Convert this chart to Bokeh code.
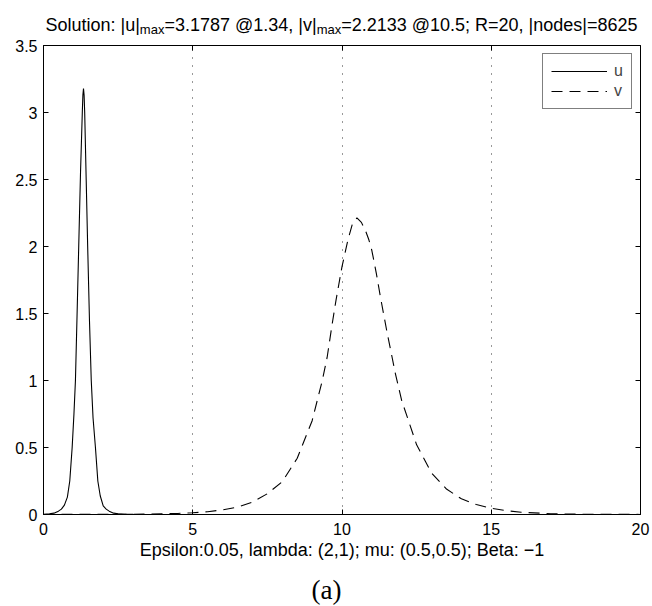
from bokeh.plotting import figure
from bokeh.layouts import column
from bokeh.models import LinearAxis, FixedTicker, Legend, LegendItem, ColumnDataSource
from bokeh.core.properties import value
from bokeh.embed import file_html
from bokeh.resources import INLINE

# ---------------- data ----------------
u_x = [0.0, 0.2, 0.35, 0.5, 0.6, 0.7, 0.8, 0.88, 0.96, 1.02, 1.07, 1.12, 1.18, 1.24, 1.30, 1.32,
       1.34, 1.36, 1.38, 1.43, 1.48, 1.54, 1.60, 1.66, 1.74, 1.82, 1.90, 2.0, 2.1, 2.2, 2.35, 2.5,
       2.7, 3.0, 4.0, 6.0, 10.0, 20.0]
u_y = [0.002, 0.005, 0.01, 0.025, 0.04, 0.07, 0.13, 0.25, 0.5, 0.75, 1.0, 1.45, 2.0, 2.55, 3.0, 3.13,
       3.1787, 3.13, 3.0, 2.5, 2.0, 1.45, 1.0, 0.72, 0.5, 0.25, 0.14, 0.065, 0.04, 0.025, 0.01, 0.005,
       0.002, 0.001, 0.0005, 0.0001, 0.0, 0.0]

v_x = [0.0, 1.0, 2.0, 3.0, 4.0, 4.5, 5.0, 5.5, 6.0, 6.5, 7.0, 7.5, 8.0, 8.5, 9.0, 9.34, 9.5, 9.67,
       9.8, 10.0, 10.2, 10.35, 10.5, 10.65, 10.8, 10.9, 11.0, 11.15, 11.29, 11.5, 11.79, 12.0, 12.5,
       13.0, 13.5, 14.0, 14.5, 15.0, 15.5, 16.0, 17.0, 18.0, 19.0, 20.0]
v_y = [0.0, 0.001, 0.001, 0.002, 0.005, 0.008, 0.013, 0.021, 0.034, 0.056, 0.092, 0.155, 0.245, 0.42,
       0.70, 1.0, 1.17, 1.42, 1.6, 1.85, 2.05, 2.17, 2.2133, 2.18, 2.11, 2.05, 1.97, 1.80, 1.62, 1.37,
       1.05, 0.85, 0.52, 0.31, 0.19, 0.117, 0.074, 0.046, 0.029, 0.017, 0.006, 0.002, 0.001, 0.0005]

series_names = ["u", "v"]
x_ticks = [0, 5, 10, 15, 20]
x_tick_labels = ["0", "5", "10", "15", "20"]
y_ticks = [0, 0.5, 1, 1.5, 2, 2.5, 3, 3.5]
y_tick_labels = ["0", "0.5", "1", "1.5", "2", "2.5", "3", "3.5"]

title_parts = ["Solution: |u|", "max", "=3.1787 @1.34, |v|", "max", "=2.2133 @10.5; R=20, |nodes|=8625"]
title_is_sub = [False, True, False, True, False]
x_label = "Epsilon:0.05, lambda: (2,1); mu: (0.5,0.5); Beta: \u22121"
caption = "(a)"

# ---------------- styling / layout ----------------
FONT = "Liberation Sans"
TICK_FS = 16
TITLE_FS = 18
SUB_FS = 13
WIDTH = 652
BL, BR = 43, 12            # left / right borders shared by all stacked figures
TITLE_H = 39
CAPTION_H = 41
MAIN_H = 606 - TITLE_H - CAPTION_H
FRAME_R = WIDTH - BR


def blank_fig(h):
    # x data units equal page pixels (frame spans BL..FRAME_R)
    f = figure(width=WIDTH, height=h, x_range=(BL, FRAME_R), y_range=(0, h),
               output_backend="svg", toolbar_location=None, tools="",
               x_axis_type=None, y_axis_type=None, min_border=0,
               min_border_left=BL, min_border_right=BR, min_border_top=0, min_border_bottom=0)
    f.outline_line_color = None
    f.background_fill_color = "white"
    f.border_fill_color = "white"
    f.xgrid.visible = False
    f.ygrid.visible = False
    return f


# ---------------- main plot ----------------
p = figure(width=WIDTH, height=MAIN_H, x_range=(0, 20), y_range=(0, 3.5),
           output_backend="svg", toolbar_location=None, tools="",
           min_border_left=BL, min_border_right=BR, min_border_top=6, min_border_bottom=51)
p.background_fill_color = "white"
p.border_fill_color = "white"
p.outline_line_color = "black"
p.outline_line_width = 1

src_u = ColumnDataSource(dict(x=u_x, y=u_y))
src_v = ColumnDataSource(dict(x=v_x, y=v_y))
r_u = p.line("x", "y", source=src_u, line_color="black", line_width=1.1)
r_v = p.line("x", "y", source=src_v, line_color="black", line_width=1.1, line_dash="11 7")

for ax, ticks, labels in ((p.xaxis[0], x_ticks, x_tick_labels), (p.yaxis[0], y_ticks, y_tick_labels)):
    ax.ticker = FixedTicker(ticks=ticks)
    ax.major_label_overrides = {t: l for t, l in zip(ticks, labels)}
    ax.major_tick_in = 5
    ax.major_tick_out = 0
    ax.minor_tick_line_color = None
    ax.axis_line_color = "black"
    ax.major_tick_line_color = "black"
    ax.major_label_text_font = FONT
    ax.major_label_text_font_size = f"{TICK_FS}px"
    ax.major_label_text_color = "black"
    ax.major_label_standoff = 6

p.xaxis[0].major_label_standoff = 8
p.xaxis[0].axis_label = x_label
p.xaxis[0].axis_label_text_font = FONT
p.xaxis[0].axis_label_text_font_size = "18px"
p.xaxis[0].axis_label_text_font_style = "normal"
p.xaxis[0].axis_label_text_color = "black"
p.xaxis[0].axis_label_standoff = 2

# box ticks on top and right
for loc, ticks in (("above", x_ticks), ("right", y_ticks)):
    ax = LinearAxis(ticker=FixedTicker(ticks=ticks))
    ax.major_label_overrides = {t: "" for t in ticks}
    ax.major_label_text_color = None
    ax.major_label_text_font_size = "1px"
    ax.major_label_standoff = 0
    ax.major_tick_in = 5
    ax.major_tick_out = 0
    ax.minor_tick_line_color = None
    ax.axis_line_color = None
    ax.major_tick_line_color = "black"
    p.add_layout(ax, loc)

p.xgrid.grid_line_color = "black"
p.xgrid.grid_line_dash = "1 7"
p.xgrid.grid_line_alpha = 0.8
p.ygrid.grid_line_color = None

legend = Legend(items=[LegendItem(label=series_names[0], renderers=[r_u]),
                       LegendItem(label=series_names[1], renderers=[r_v])],
                location="top_right")
legend.margin = 8
legend.padding = 8
legend.spacing = 2
legend.glyph_width = 56
legend.glyph_height = 18
legend.label_height = 18
legend.label_width = 9
legend.label_standoff = 7
legend.label_text_font = FONT
legend.label_text_font_size = f"{TICK_FS}px"
legend.border_line_color = "black"
legend.border_line_width = 1
legend.background_fill_color = "white"
legend.background_fill_alpha = 1
p.add_layout(legend, "center")

# ---------------- title (with subscripts) ----------------
W = {"S": 667, "o": 556, "l": 222, "u": 556, "t": 278, "i": 222, "n": 556, ":": 278, " ": 278,
     "|": 260, "m": 833, "a": 556, "x": 500, "=": 584, ".": 278, "@": 1015, ",": 278, "v": 500,
     ";": 278, "R": 722, "d": 556, "e": 556, "s": 500}


def text_w(s, fs):
    return sum(W.get(c, 556) for c in s) / 1000.0 * fs


sizes = [SUB_FS if s else TITLE_FS for s in title_is_sub]
widths = [text_w(t, fs) for t, fs in zip(title_parts, sizes)]
starts = []
x0 = 341 - sum(widths) / 2
for w in widths:
    starts.append(x0)
    x0 += w
base = TITLE_H - 24
ys = [base - 5 if s else base for s in title_is_sub]

tf = blank_fig(TITLE_H)
tsrc = ColumnDataSource(dict(x=starts, y=ys, text=title_parts, size=[f"{s}px" for s in sizes]))
tf.text("x", "y", text="text", source=tsrc, text_font=value(FONT), text_font_size="size",
        text_align="left", text_baseline="alphabetic", text_color="black")

# ---------------- caption ----------------
cf = blank_fig(CAPTION_H)
csrc = ColumnDataSource(dict(x=[326], y=[CAPTION_H - (589 - (606 - CAPTION_H))], text=[caption]))
cf.text("x", "y", text="text", source=csrc, text_font=value("Liberation Serif"), text_font_size="27px",
        text_align="center", text_baseline="alphabetic", text_color="black")

layout = column(tf, p, cf, spacing=0)
open("out.html", "w").write(file_html(layout, INLINE))
